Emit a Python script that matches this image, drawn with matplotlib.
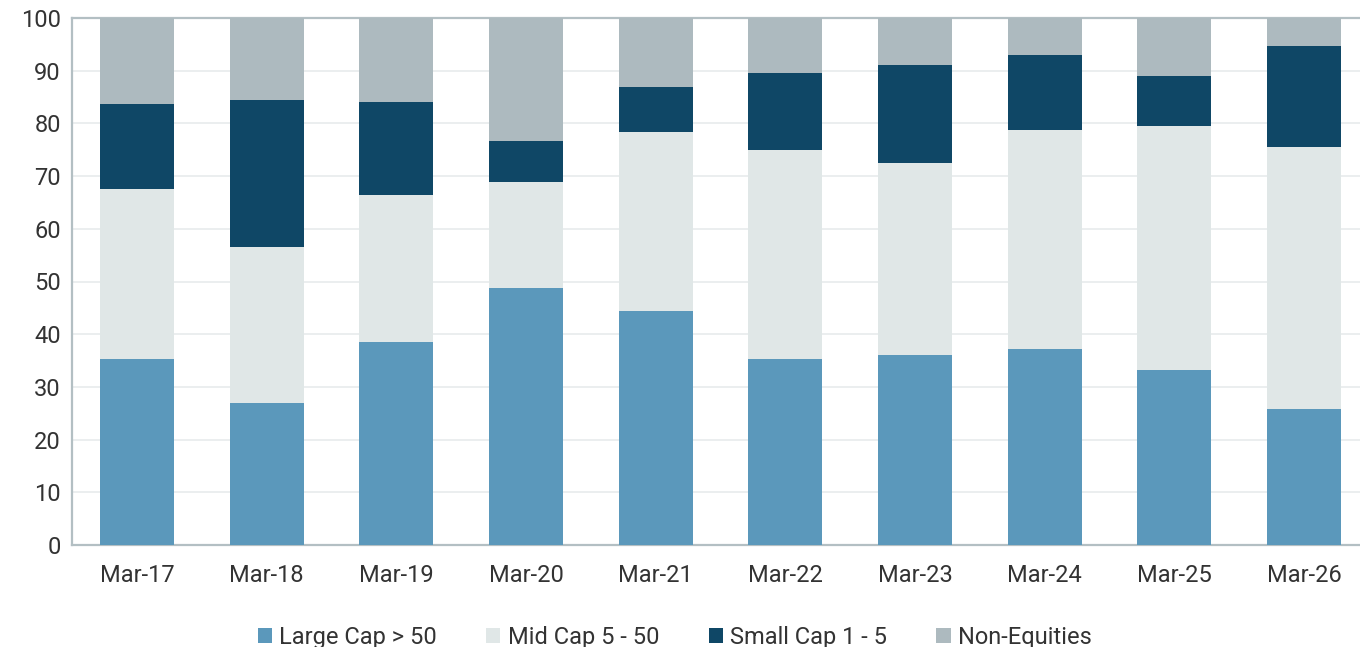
import numpy as np
import matplotlib
matplotlib.use('Agg')
import matplotlib.pyplot as plt
from matplotlib.patches import Patch

plt.rcParams['font.family'] = ['Roboto', 'DejaVu Sans']

# data (percent of portfolio)
periods = ['Mar-17', 'Mar-18', 'Mar-19', 'Mar-20', 'Mar-21',
           'Mar-22', 'Mar-23', 'Mar-24', 'Mar-25', 'Mar-26']
large_cap = [35.2, 26.9, 38.6, 48.7, 44.4, 35.3, 36.1, 37.2, 33.3, 25.8]
mid_cap = [32.3, 29.7, 27.8, 20.2, 34.0, 39.6, 36.3, 41.5, 46.3, 49.8]
small_cap = [16.2, 27.8, 17.7, 7.7, 8.5, 14.7, 18.6, 14.3, 9.4, 19.1]
non_equities = [16.3, 15.6, 15.9, 23.4, 13.1, 10.4, 9.0, 7.0, 11.0, 5.3]

series = [('Large Cap > 50', large_cap, '#5b98bb'),
          ('Mid Cap 5 - 50', mid_cap, '#e0e7e7'),
          ('Small Cap 1 - 5', small_cap, '#0f4766'),
          ('Non-Equities', non_equities, '#adbabf')]

fig = plt.figure(figsize=(13.6, 6.47), dpi=100)
ax = fig.add_axes([72/1360, 1 - 545/647, 1297/1360, (545 - 18)/647])

x = np.arange(len(periods))
bottom = np.zeros(len(periods))
for name, vals, col in series:
    vals = np.array(vals)
    ax.bar(x, vals, width=0.57, bottom=bottom, color=col, label=name, zorder=3)
    bottom += vals

ax.set_xlim(-0.5, len(periods) - 0.5)
ax.set_ylim(0, 100)
ax.set_yticks(range(0, 101, 10))
ax.set_xticks(x)
ax.set_xticklabels(periods)
ax.grid(axis='y', color='#e8ebec', linewidth=1.2, zorder=0)
ax.set_axisbelow(True)

for s in ['left', 'bottom', 'top']:
    ax.spines[s].set_color('#b3bfc3')
    ax.spines[s].set_linewidth(1.6)
ax.spines['right'].set_visible(False)
ax.tick_params(axis='both', length=0, labelsize=17, colors='#333333')
ax.tick_params(axis='y', pad=8)
ax.tick_params(axis='x', pad=14)

handles = [Patch(facecolor=c, edgecolor='none') for _, _, c in series]
fig.legend(handles, [n for n, _, _ in series], loc='center',
           bbox_to_anchor=(0.496, 0.015), ncol=4, frameon=False,
           fontsize=17, handlelength=0.6, handleheight=0.6,
           handletextpad=0.3, columnspacing=2.1, labelcolor='#333333')

fig.savefig('out.png', dpi=100)
